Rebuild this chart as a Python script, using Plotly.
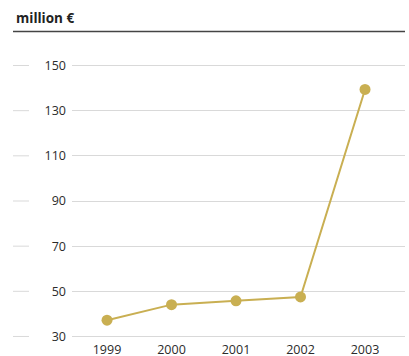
import plotly.graph_objects as go

# Annual values, million €
years = ["1999", "2000", "2001", "2002", "2003"]
values = [37.2, 44.1, 45.8, 47.5, 139.4]
y_ticks = [30, 50, 70, 90, 110, 130, 150]

GOLD = "#C9AF52"
GRID = "#D9D9D9"
TEXT = "#2B2B2B"

W, H = 409, 356
L, R, T, B = 72, 4, 60.5, 14.5
pw = W - L - R
ph = H - T - B


def px_x(x):
    return (x - L) / pw


def px_y(y):
    return (H - B - y) / ph


fig = go.Figure(
    go.Scatter(
        x=list(range(len(years))),
        y=values,
        mode="lines+markers",
        line=dict(color=GOLD, width=2),
        marker=dict(color=GOLD, size=11),
        hoverinfo="skip",
    )
)

# short dashes to the left of the value labels
shapes = [
    dict(type="line", xref="paper", yref="y", x0=px_x(13), x1=px_x(29),
         y0=v, y1=v, line=dict(color=GRID, width=1))
    for v in y_ticks
]
# rule under the unit heading
shapes.append(dict(type="line", xref="paper", yref="paper", x0=px_x(13), x1=1.0,
                   y0=px_y(31), y1=px_y(31), line=dict(color="#444444", width=1.5)))

fig.update_layout(
    width=W, height=H,
    margin=dict(l=L, r=R, t=T, b=B, autoexpand=False),
    paper_bgcolor="white", plot_bgcolor="white",
    showlegend=False,
    font=dict(family="Open Sans", size=12.5, color=TEXT),
    shapes=shapes,
    annotations=[dict(text="<b>million €</b>", xref="paper", yref="paper",
                      x=px_x(14), y=px_y(17.5), xanchor="left", yanchor="middle",
                      showarrow=False, font=dict(size=13.5, color="#222222"))],
    xaxis=dict(
        range=[-0.543, 4.62],
        tickmode="array", tickvals=list(range(len(years))), ticktext=years,
        showgrid=False, zeroline=False, showline=False, ticks="",
        ticklabelstandoff=-1,
        automargin=False, fixedrange=True,
    ),
    yaxis=dict(
        range=[28, 152],
        tickmode="array", tickvals=y_ticks,
        showgrid=True, gridcolor=GRID, gridwidth=1,
        zeroline=False, showline=False, ticks="",
        ticklabelstandoff=5,
        automargin=False, fixedrange=True,
    ),
)

fig.write_html("out.html", config={"displayModeBar": False})
